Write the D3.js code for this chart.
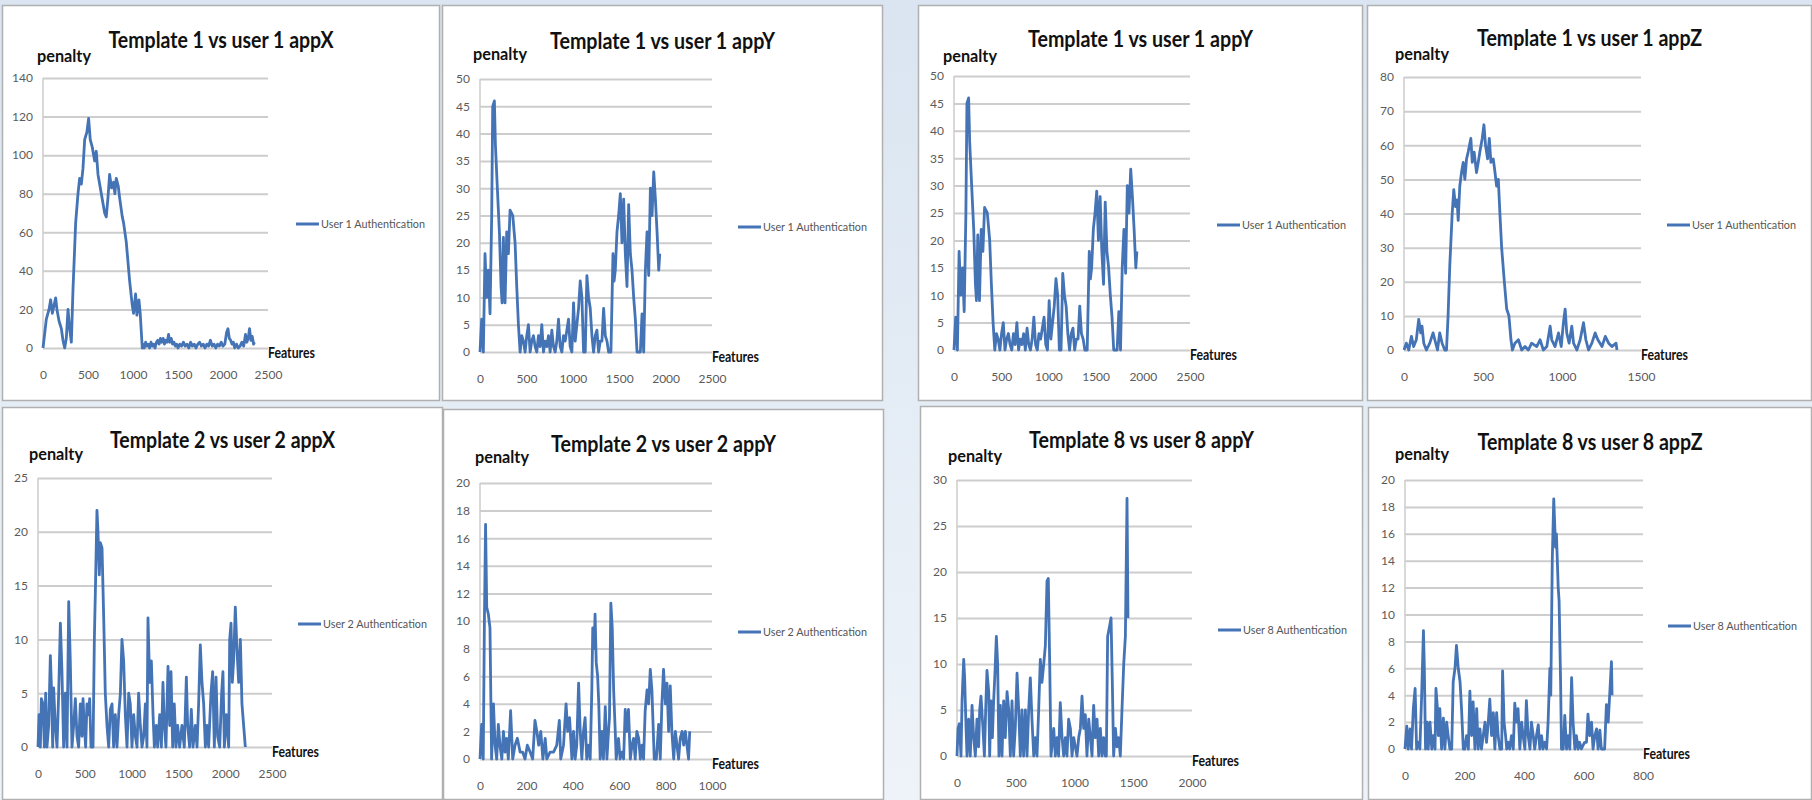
<!DOCTYPE html>
<html>
<head>
<meta charset="utf-8">
<script src="https://cdn.jsdelivr.net/npm/d3@7"></script>
<style>
    body { margin: 0; background: #e4ecf5; }
    svg { display: block; }
</style>
</head>
<body>
<div id="chart"></div>
<script>
/**** DATA ****/

// [feature, penalty] pairs
var t1AppX = [[0,0],[37,15],[67,20],[85,25],[104,18],[122,22],[141,26],[155,20],[178,14],[204,10],[222,4],[241,0],[259,5],[278,20],[296,10],[315,3],[333,30],[363,65],[389,80],[407,88],[426,85],[444,93],[463,108],[488,112],[507,119],[525,108],[548,104],[574,97],[592,102],[611,90],[648,80],[685,70],[703,68],[722,78],[740,90],[762,83],[784,86],[799,80],[814,88],[836,84],[851,78],[881,68],[895,65],[925,55],[962,35],[992,22],[1006,18],[1029,28],[1043,17],[1066,25],[1080,18],[1103,0],
    [1110,2],[1125,0],[1140,3],[1155,1],[1170,2],[1185,0],[1200,3],[1215,1],[1230,2],[1245,0],[1260,3],[1275,4],[1290,2],[1305,5],[1320,3],[1335,5],[1350,2],[1365,4],[1380,3],[1395,7],[1410,3],[1425,5],[1440,2],[1455,3],[1470,1],[1485,2],[1500,0],[1520,2],[1540,1],[1560,3],[1580,1],[1600,2],[1620,0],[1640,3],[1660,1],[1680,2],[1700,0],[1720,2],[1740,3],[1760,1],[1780,2],[1800,0],[1820,2],[1840,1],[1860,4],[1880,1],[1900,2],[1920,0],[1940,2],[1960,1],[1980,3],[2000,1],[2020,2],[2040,8],[2055,10],[2070,5],[2085,4],[2100,2],[2115,3],[2130,0],[2150,2],[2170,0],[2190,1],[2210,3],[2230,1],[2250,7],[2265,3],[2280,5],[2295,10],[2310,4],[2325,6],[2340,2],[2350,3]];

var t1AppY = [[0,0],[18,6],[36,0],[54,18],[72,10],[90,15],[108,7],[126,25],[137,45],[155,46],[166,38],[187,30],[209,22],[227,12],[238,9],[252,21],[270,9],[288,22],[306,18],[324,26],[353,25],[378,20],[396,12],[414,5],[432,0],[450,3],[468,2],[486,0],[504,3],[522,5],[540,0],[558,2],[576,3],[594,1],[612,0],[630,3],[648,1],[666,5],[684,0],[702,2],[720,1],[738,3],[756,0],[774,4],[792,1],[810,0],[828,2],[846,6],[864,1],[882,0],[900,3],[918,2],[936,4],[954,6],[972,1],[990,0],[1008,9],[1026,2],[1044,5],[1062,8],[1080,13],[1098,10],[1116,0],[1134,0],[1152,14],[1170,10],[1188,8],[1206,3],[1224,0],[1242,3],[1260,4],[1278,0],[1296,2],[1314,2],[1332,8],[1350,3],[1368,2],[1386,0],[1411,0],[1433,18],[1445,13],[1458,15],[1476,22],[1494,25],[1512,29],[1530,20],[1548,28],[1566,18],[1584,12],[1602,27],[1620,18],[1638,15],[1656,10],[1674,6],[1692,0],[1728,0],[1746,7],[1764,0],[1782,15],[1800,22],[1818,14],[1836,30],[1854,25],[1872,33],[1890,28],[1908,22],[1926,15],[1937,18]];

var t1AppZ = [[0,0],[15,2],[30,0],[47,4],[61,1],[78,3],[93,9],[106,5],[114,7],[125,2],[142,0],[163,2],[184,5],[195,3],[212,0],[226,5],[241,2],[258,0],[269,0],[279,10],[290,25],[305,40],[315,47],[326,42],[336,44],[343,38],[353,48],[364,52],[375,55],[385,50],[396,56],[406,58],[423,62],[432,55],[444,58],[459,52],[470,55],[480,58],[495,62],[506,66],[516,60],[529,56],[540,62],[550,55],[565,56],[576,52],[586,48],[597,50],[607,40],[618,30],[635,20],[650,12],[664,10],[677,3],[686,0],[702,2],[724,3],[745,0],[766,1],[787,0],[808,2],[840,1],[861,3],[882,0],[904,1],[925,7],[935,3],[956,1],[978,5],[995,1],[1009,8],[1020,12],[1030,5],[1045,2],[1062,7],[1073,2],[1094,0],[1115,3],[1136,8],[1151,3],[1168,0],[1189,2],[1210,5],[1227,3],[1253,1],[1274,4],[1295,2],[1316,1],[1342,2],[1348,0]];

var t2AppX = [[0,0],[11,3],[25,0],[36,4.5],[53,4],[68,0],[82,5],[96,0],[114,2],[132,8.5],[142,6],[157,0],[167,5.5],[185,2],[203,0],[221,5],[239,11.5],[256,7],[274,0],[292,5],[310,0],[328,13.5],[345,8],[363,0],[381,2],[399,4.5],[417,1],[434,0],[452,4],[470,1],[481,4.5],[495,2],[509,0],[523,4],[541,3],[552,4.5],[566,0],[588,0],[602,10],[613,14.5],[630,22],[641,20],[655,16],[666,19],[684,18.5],[702,12],[719,5],[737,2],[755,0],[773,3.5],[791,4],[808,0],[826,3],[844,0],[862,3],[880,5],[897,10],[915,8],[933,3],[951,0],[969,5],[986,4],[1004,0],[1022,3],[1040,1],[1058,0],[1075,5],[1093,2],[1111,0],[1129,1],[1147,4],[1164,0],[1175,12],[1193,6],[1211,8],[1229,3],[1243,0],[1264,2],[1278,0],[1300,3],[1318,0],[1335,6],[1350,2],[1367,0],[1389,7.5],[1407,2],[1421,7],[1439,0],[1456,4],[1474,0],[1492,2],[1513,0],[1538,2],[1563,0],[1585,6.5],[1599,2],[1620,0],[1638,3.5],[1656,0],[1681,2],[1699,0],[1716,4],[1734,9.5],[1752,6],[1770,4],[1788,0],[1805,2],[1823,0],[1848,5],[1866,7],[1884,0],[1902,6.5],[1919,1],[1941,0],[1962,5],[1976,7],[1991,0],[2012,3],[2037,0],[2048,10],[2062,11.5],[2076,6],[2090,8],[2108,13],[2126,9],[2144,6],[2162,10],[2179,4],[2197,2],[2215,0]];

var t2AppY = [[0,0],[7,2.5],[14,0],[19,10],[24,17],[29,11],[36,10.5],[43,9.5],[50,0],[58,4],[65,1],[72,0],[79,2.5],[86,1],[94,0],[101,2],[108,0.5],[115,1.5],[122,0],[132,3.5],[141,0],[151,1],[161,1.5],[173,0.5],[184,0.5],[194,0],[204,1],[216,0.5],[227,0],[237,2.8],[245,2],[253,1],[262,2],[271,0],[281,1.5],[288,0],[302,0.5],[317,0.5],[331,1],[342,2.8],[348,0],[360,1],[371,4],[378,2],[386,3],[396,0],[403,2],[410,0],[417,1],[425,5.5],[432,2],[439,0],[446,2],[453,3],[460,0],[468,1],[475,0],[482,5],[486,9.5],[492,8],[496,10.5],[501,7],[507,6],[512,4],[518,0],[525,2],[532,0],[540,3.8],[547,0],[554,2],[558,3],[564,11.3],[570,9.5],[576,5],[583,2],[587,0],[597,1.5],[604,0],[612,0.5],[619,0],[626,3.6],[633,2],[640,3.6],[648,0],[655,1],[662,1.5],[669,0],[676,2],[684,1.5],[691,0],[698,1],[705,0],[712,3.5],[720,5],[727,4],[734,6.5],[741,5],[745,3],[751,0],[760,0],[770,2.5],[777,0],[784,4],[791,6.5],[799,4],[806,5.5],[813,2],[820,5.3],[827,2],[835,0],[842,2],[849,1],[856,0],[863,1.5],[871,2],[878,1],[885,2],[892,1],[899,0],[904,2]];

var t8AppY = [[0,0],[9,3],[20,3.5],[34,0],[43,6],[57,10.5],[65,8.5],[77,3],[85,0],[99,4],[113,0],[128,5.5],[142,2],[156,0],[170,4],[184,1],[193,5],[204,6.5],[221,3],[233,0],[244,5],[255,9.3],[270,7],[278,0],[289,6],[301,2],[312,6],[323,9],[335,13],[346,10],[357,0],[369,5.5],[383,0],[397,6],[411,2],[426,7],[440,5],[454,0],[468,6],[482,0],[496,3],[511,9],[525,5],[539,0],[553,5],[567,0],[582,5],[596,0],[610,5],[624,8.5],[638,4],[653,0],[667,2],[681,0],[695,5],[709,10.5],[723,8],[738,10],[752,12],[766,19],[777,19.3],[789,10],[800,0],[823,3],[837,0],[851,2],[865,0],[879,5.8],[894,2],[908,0],[922,2],[936,0],[950,4],[965,3],[979,0],[993,2],[1007,1],[1021,0],[1036,2],[1050,3],[1064,6.5],[1078,3],[1092,4.5],[1106,0],[1121,4],[1135,2],[1149,0],[1163,5.5],[1177,2],[1192,4],[1206,0],[1220,3],[1234,0],[1248,2],[1262,0],[1271,0],[1282,13],[1297,14],[1311,15],[1322,8],[1333,0],[1348,3],[1362,1],[1376,2],[1390,0],[1404,5],[1419,10],[1433,13],[1447,28],[1455,15]];

var t8AppZ = [[0,0],[6,1.7],[11,0],[17,1.5],[22,0],[28,3],[34,4.5],[39,0],[45,0.5],[50,0],[56,4],[62,8.8],[65,6],[69,0],[74,2],[78,0],[84,2],[90,0],[95,1],[101,0],[104,4.5],[109,3],[112,1],[117,3],[123,0],[129,2.3],[134,0],[140,2],[145,1],[151,0],[157,0],[162,5],[168,6],[173,7.7],[179,6],[185,5],[190,3],[196,0],[201,0],[207,1],[213,0],[218,4.3],[224,1],[229,3.5],[235,0],[241,3],[246,0],[252,1.5],[257,0],[263,1],[269,2],[274,0.5],[280,2],[285,3.7],[291,1],[297,2.7],[302,0],[308,2.7],[313,1],[319,0],[325,0],[328,5.8],[333,2],[338,1],[342,0],[347,0.5],[352,0],[358,1],[364,0],[369,3.4],[375,2],[380,3],[386,0],[392,2],[397,1],[403,0],[408,3.6],[414,1],[420,0],[425,2],[431,1],[436,0],[442,1],[448,1.8],[453,0],[459,1],[464,0],[470,0.5],[476,0],[481,2],[487,6],[490,4],[495,14],[500,18.6],[506,15],[509,16],[515,12],[518,11],[523,5],[526,0],[532,0],[537,2.5],[543,0],[548,1],[554,0],[560,5.3],[565,2],[571,0],[576,1],[582,0],[587,0.5],[593,0],[599,0.3],[604,0.5],[610,0.5],[615,2.6],[621,1],[627,2],[632,0],[638,1],[644,1.5],[649,0],[655,1.4],[660,0],[671,0],[677,3.3],[683,2],[688,4],[694,6.5],[696,4]];

var seriesList = [t1AppX, t1AppY, t1AppY, t1AppZ, t2AppX, t2AppY, t8AppY, t8AppZ];

var titles = [
    'Template 1 vs user 1 appX', 'Template 1 vs user 1 appY',
    'Template 1 vs user 1 appY', 'Template 1 vs user 1 appZ',
    'Template 2 vs user 2 appX', 'Template 2 vs user 2 appY',
    'Template 8 vs user 8 appY', 'Template 8 vs user 8 appZ'
];
var legendLabels = [
    'User 1 Authentication', 'User 1 Authentication', 'User 1 Authentication', 'User 1 Authentication',
    'User 2 Authentication', 'User 2 Authentication', 'User 8 Authentication', 'User 8 Authentication'
];
var yMaxes = [140, 50, 50, 80, 25, 20, 30, 20];
var yStepSizes = [20, 5, 5, 10, 5, 2, 5, 2];
var xMaxes = [2500, 2500, 2500, 1500, 2500, 1000, 2000, 800];
var xStepSizes = [500, 500, 500, 500, 500, 200, 500, 200];

/**** LAYOUT ****/

// box: [x0, y0, x1, y1], plot: [left, top, right, bottom]
var layout = [
    {box: [2, 5, 440, 401],     plot: [43, 78, 268, 348],     titleY: 48,  penalty: [37, 62],    legend: [296, 224]},
    {box: [442, 5, 883, 401],   plot: [480, 79, 712, 352],    titleY: 49,  penalty: [473, 60],   legend: [738, 227]},
    {box: [918, 5, 1363, 401],  plot: [954, 76, 1190, 350],   titleY: 47,  penalty: [943, 62],   legend: [1217, 225]},
    {box: [1367, 5, 1812, 401], plot: [1404, 77, 1641, 350],  titleY: 46,  penalty: [1395, 60],  legend: [1667, 225]},
    {box: [2, 407, 443, 800],   plot: [38, 478, 272, 747],    titleY: 448, penalty: [29, 460],   legend: [298, 624]},
    {box: [443, 409, 884, 800], plot: [480, 483, 712, 759],   titleY: 452, penalty: [475, 463],  legend: [738, 632]},
    {box: [920, 406, 1363, 800], plot: [957, 480, 1192, 756], titleY: 448, penalty: [948, 462],  legend: [1218, 630]},
    {box: [1368, 407, 1812, 800], plot: [1405, 480, 1643, 749], titleY: 450, penalty: [1395, 460], legend: [1668, 626]}
];

var lineColor = '#4473b6';
var gridColor = '#cdcdcd';
var fontFamily = 'Lato, "Open Sans", sans-serif';

/**** DRAWING ****/

var svg = d3.select('#chart').append('svg')
    .attr('width', 1812)
    .attr('height', 800);

// Light blue backdrop with gradient gap between the two halves
var defs = svg.append('defs');
var grad = defs.append('linearGradient').attr('id', 'bg').attr('x1', 0).attr('y1', 0).attr('x2', 0).attr('y2', 1);
grad.append('stop').attr('offset', '0%').attr('stop-color', '#dae5f1');
grad.append('stop').attr('offset', '100%').attr('stop-color', '#eef3f9');
svg.append('rect')
    .attr('width', 1812)
    .attr('height', 800)
    .attr('fill', 'url(#bg)');

function drawPanel(i) {
    var L = layout[i];
    var g = svg.append('g').attr('class', 'panel');

    // Panel frame
    g.append('rect')
        .attr('x', L.box[0] + 0.5)
        .attr('y', L.box[1] + 0.5)
        .attr('width', L.box[2] - L.box[0] - 1)
        .attr('height', L.box[3] - L.box[1] - 1)
        .attr('fill', '#ffffff')
        .attr('stroke', '#b0b0b0')
        .attr('stroke-width', 1.5);

    // Scales
    var x = d3.scaleLinear().domain([0, xMaxes[i]]).range([L.plot[0], L.plot[2]]);
    var y = d3.scaleLinear().domain([0, yMaxes[i]]).range([L.plot[3], L.plot[1]]);
    var yTicks = d3.range(0, yMaxes[i] + 0.001, yStepSizes[i]);
    var xTicks = d3.range(0, xMaxes[i] + 0.001, xStepSizes[i]);

    // Gridlines
    g.append('g')
        .attr('transform', 'translate(' + L.plot[0] + ',0)')
        .call(d3.axisLeft(y).tickValues(yTicks).tickSize(-(L.plot[2] - L.plot[0])).tickFormat(''))
        .call(function(a) {
            a.select('.domain').remove();
            a.selectAll('line').attr('stroke', gridColor).attr('stroke-width', 2);
        });

    // Vertical axis line
    g.append('line')
        .attr('x1', L.plot[0]).attr('x2', L.plot[0])
        .attr('y1', L.plot[1]).attr('y2', L.plot[3])
        .attr('stroke', gridColor)
        .attr('stroke-width', 1.5);

    // Y tick labels
    g.append('g')
        .attr('transform', 'translate(' + (L.plot[0] - 10) + ',0)')
        .call(d3.axisLeft(y).tickValues(yTicks).tickSize(0).tickPadding(0).tickFormat(d3.format('d')))
        .call(function(a) {
            a.select('.domain').remove();
            a.selectAll('text')
                .attr('fill', '#5b5b5b')
                .style('font-family', fontFamily)
                .style('font-size', '12px');
        });

    // X tick labels
    g.append('g')
        .attr('transform', 'translate(0,' + (L.plot[3] + 22) + ')')
        .call(d3.axisBottom(x).tickValues(xTicks).tickSize(0).tickPadding(0).tickFormat(d3.format('d')))
        .call(function(a) {
            a.select('.domain').remove();
            a.selectAll('text')
                .attr('fill', '#5b5b5b')
                .style('font-family', fontFamily)
                .style('font-size', '12px');
        });

    // Series line
    var line = d3.line()
        .x(function(d) { return x(d[0]); })
        .y(function(d) { return y(d[1]); });
    g.append('path')
        .datum(seriesList[i])
        .attr('d', line)
        .attr('fill', 'none')
        .attr('stroke', lineColor)
        .attr('stroke-width', 2.8)
        .attr('stroke-linejoin', 'round');

    // Title
    g.append('text')
        .attr('x', (L.box[0] + L.box[2]) / 2)
        .attr('y', L.titleY)
        .attr('text-anchor', 'middle')
        .attr('textLength', 225)
        .attr('lengthAdjust', 'spacingAndGlyphs')
        .style('font-family', fontFamily)
        .style('font-size', '23px')
        .style('font-weight', 700)
        .attr('fill', '#111')
        .text(titles[i]);

    // Axis titles
    g.append('text')
        .attr('x', L.penalty[0])
        .attr('y', L.penalty[1])
        .attr('textLength', 54)
        .attr('lengthAdjust', 'spacingAndGlyphs')
        .style('font-family', fontFamily)
        .style('font-size', '17px')
        .style('font-weight', 700)
        .attr('fill', '#111')
        .text('penalty');
    g.append('text')
        .attr('x', L.plot[2])
        .attr('y', L.plot[3] + 10)
        .attr('textLength', 47)
        .attr('lengthAdjust', 'spacingAndGlyphs')
        .style('font-family', fontFamily)
        .style('font-size', '15px')
        .style('font-weight', 700)
        .attr('fill', '#111')
        .text('Features');

    // Legend
    g.append('line')
        .attr('x1', L.legend[0]).attr('x2', L.legend[0] + 23)
        .attr('y1', L.legend[1]).attr('y2', L.legend[1])
        .attr('stroke', lineColor)
        .attr('stroke-width', 3);
    g.append('text')
        .attr('x', L.legend[0] + 25)
        .attr('y', L.legend[1] + 4)
        .attr('textLength', 104)
        .attr('lengthAdjust', 'spacingAndGlyphs')
        .style('font-family', fontFamily)
        .style('font-size', '12px')
        .attr('fill', '#555')
        .text(legendLabels[i]);
}

for (var i = 0; i < layout.length; i++) {
    drawPanel(i);
}
</script>
</body>
</html>
